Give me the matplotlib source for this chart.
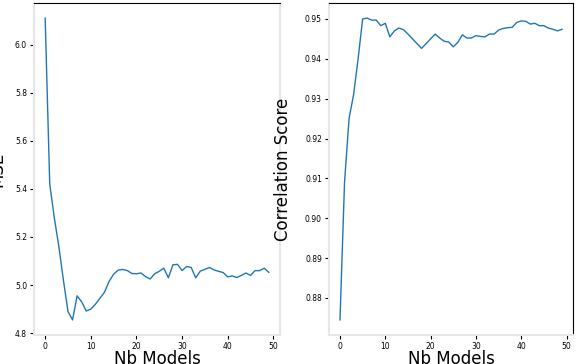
import matplotlib
matplotlib.use("Agg")
import matplotlib.pyplot as plt
import numpy as np

nb_models = list(range(50))

mse = [6.11, 5.42, 5.28, 5.16, 5.02, 4.89, 4.855, 4.955, 4.93, 4.892,
       4.90, 4.92, 4.945, 4.97, 5.015, 5.045, 5.062, 5.065, 5.06, 5.048,
       5.047, 5.05, 5.035, 5.025, 5.047, 5.057, 5.07, 5.03, 5.084, 5.086,
       5.06, 5.077, 5.073, 5.03, 5.058, 5.065, 5.073, 5.063, 5.057, 5.052,
       5.034, 5.038, 5.031, 5.04, 5.05, 5.04, 5.06, 5.06, 5.07, 5.053]

corr = [0.8745, 0.909, 0.925, 0.931, 0.940, 0.950, 0.9502, 0.9497, 0.9497, 0.9483,
        0.9489, 0.9455, 0.947, 0.9477, 0.9473, 0.9462, 0.945, 0.9438, 0.9426, 0.9438,
        0.945, 0.9462, 0.9452, 0.9444, 0.9442, 0.943, 0.9441, 0.946, 0.9452, 0.9452,
        0.9458, 0.9456, 0.9455, 0.9462, 0.9462, 0.9472, 0.9476, 0.9478, 0.9479, 0.9491,
        0.9495, 0.9494, 0.9487, 0.9489, 0.9483, 0.9483, 0.9477, 0.9474, 0.947, 0.9474]

fig = plt.figure(figsize=(5.76, 3.64), dpi=100)
ax1 = fig.add_axes([0.059, 0.0797, 0.427, 0.912])
ax2 = fig.add_axes([0.571, 0.0797, 0.424, 0.912])

gray = '#e6e6e6'

ax1.plot(nb_models, mse, color='#1f77b4', lw=1)
ax2.plot(nb_models, corr, color='#1f77b4', lw=1)

ax1.set_yticks([4.8, 5.0, 5.2, 5.4, 5.6, 5.8, 6.0])
ax2.set_yticks([0.88, 0.89, 0.90, 0.91, 0.92, 0.93, 0.94, 0.95])

for ax in (ax1, ax2):
    ax.set_xticks([0, 10, 20, 30, 40, 50])
    ax.tick_params(labelsize=5.5, length=3, width=0.8, pad=2)
    ax.spines['left'].set_color(gray)
    ax.spines['bottom'].set_color(gray)
    ax.spines['left'].set_linewidth(1.5)
    ax.spines['bottom'].set_linewidth(1.5)
    ax.spines['top'].set_color('black')
    ax.set_xlabel('Nb Models', fontsize=12)
    ax.xaxis.set_label_coords(0.5, -0.045)

ax1.spines['right'].set_color(gray)
ax1.spines['right'].set_linewidth(1.5)
ax2.spines['right'].set_color('black')

ax1.set_ylabel('MSE', fontsize=12)
ax1.yaxis.set_label_coords(-0.114, 0.5)
ax2.set_ylabel('Correlation Score', fontsize=12)
ax2.yaxis.set_label_coords(-0.152, 0.5)

fig.savefig('out.png', dpi=100)
